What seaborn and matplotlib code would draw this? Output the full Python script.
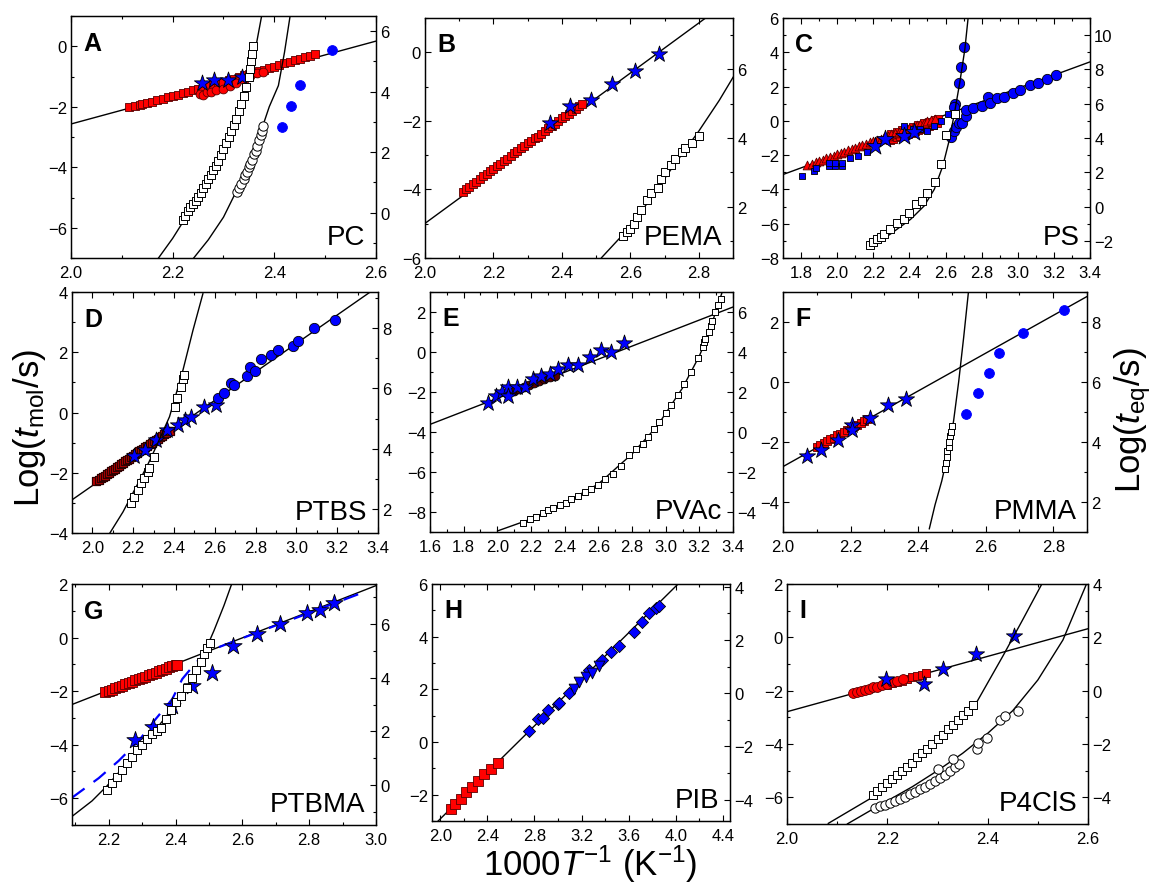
import matplotlib
matplotlib.use('Agg')
import matplotlib.pyplot as plt
import seaborn as sns
from matplotlib.ticker import MultipleLocator

sns.set_style('ticks')
plt.rcParams['font.family'] = ['Liberation Sans', 'DejaVu Sans']
plt.rcParams['mathtext.fontset'] = 'custom'
plt.rcParams['mathtext.rm'] = 'Liberation Sans'
plt.rcParams['mathtext.it'] = 'Liberation Sans:italic'
for k in ('text.color', 'axes.labelcolor', 'xtick.color', 'ytick.color', 'axes.edgecolor'):
    plt.rcParams[k] = 'black'

# ---------------- A: PC ----------------
pc_line_x = [2.0, 2.6]
pc_line_y = [-2.57, 0.17]
pc_red_sq_x = [2.115, 2.125, 2.135, 2.14, 2.15, 2.16, 2.17, 2.18, 2.19, 2.2, 2.21, 2.22, 2.23,
               2.24, 2.25, 2.26, 2.27, 2.28, 2.29, 2.3, 2.31, 2.32, 2.33, 2.34, 2.35, 2.36, 2.37,
               2.38, 2.39, 2.4, 2.41, 2.42, 2.43, 2.44, 2.45, 2.46, 2.47, 2.48]
pc_red_sq_y = [-2.02, -1.98, -1.93, -1.92, -1.87, -1.83, -1.78, -1.74, -1.69, -1.66, -1.6, -1.56,
               -1.5, -1.46, -1.41, -1.36, -1.31, -1.26, -1.21, -1.17, -1.12, -1.07, -1.02, -0.96,
               -0.92, -0.87, -0.82, -0.78, -0.72, -0.67, -0.62, -0.57, -0.52, -0.47, -0.42, -0.37,
               -0.32, -0.26]
pc_red_ci_x = [2.254, 2.26, 2.268, 2.276, 2.286, 2.299, 2.312, 2.325, 2.34, 2.352, 2.365, 2.378]
pc_red_ci_y = [-1.57, -1.6, -1.52, -1.5, -1.45, -1.4, -1.33, -1.2, -1.1, -0.98, -0.9, -0.85]
pc_star_x = [2.257, 2.282, 2.309, 2.337]
pc_star_y = [-1.23, -1.1, -1.12, -1.01]
pc_blue_x = [2.415, 2.433, 2.45, 2.514]
pc_blue_y = [-2.66, -1.96, -1.29, -0.14]
pc_open_sq_x = [2.22, 2.225, 2.23, 2.235, 2.24, 2.245, 2.25, 2.255, 2.26, 2.265, 2.27, 2.275,
                2.28, 2.285, 2.29, 2.295, 2.3, 2.305, 2.31, 2.315, 2.32, 2.325, 2.33, 2.335,
                2.34, 2.345, 2.35, 2.352, 2.354, 2.356, 2.358]
pc_open_sq_y = [-0.25, -0.1, 0.05, 0.2, 0.3, 0.4, 0.52, 0.65, 0.8, 0.95, 1.1, 1.25, 1.4, 1.55,
                1.72, 1.9, 2.1, 2.3, 2.5, 2.7, 2.9, 3.1, 3.35, 3.6, 3.85, 4.15, 4.5, 4.75, 5.0,
                5.25, 5.5]
pc_open_ci_x = [2.326, 2.33, 2.335, 2.34, 2.343, 2.346, 2.35, 2.353, 2.356, 2.36, 2.363, 2.366,
                2.37, 2.373, 2.375, 2.378]
pc_open_ci_y = [0.68, 0.8, 0.95, 1.1, 1.25, 1.35, 1.5, 1.62, 1.75, 1.95, 2.05, 2.2, 2.4, 2.55,
                2.7, 2.87]
pc_fit1_x = [2.17, 2.2, 2.23, 2.26, 2.29, 2.31, 2.33, 2.35, 2.365, 2.375]
pc_fit1_y = [-1.55, -0.85, -0.05, 0.85, 1.85, 2.6, 3.5, 4.6, 5.6, 6.5]
pc_fit2_x = [2.239, 2.27, 2.3, 2.325, 2.35, 2.37, 2.39, 2.408, 2.42, 2.431]
pc_fit2_y = [-1.55, -0.9, -0.15, 0.7, 1.6, 2.5, 3.5, 4.2, 5.3, 6.5]

# ---------------- B: PEMA ----------------
pema_line_x = [2.0, 2.82]
pema_line_y = [-4.99, 1.0]
pema_red_x = [2.11, 2.12, 2.13, 2.14, 2.15, 2.16, 2.17, 2.18, 2.19, 2.2, 2.21, 2.22, 2.23, 2.24,
              2.25, 2.26, 2.27, 2.28, 2.29, 2.3, 2.31, 2.32, 2.33, 2.34, 2.35, 2.36, 2.37, 2.38,
              2.39, 2.4, 2.41, 2.42, 2.43, 2.44, 2.45, 2.46]
pema_red_y = [-4.08, -4.0, -3.93, -3.85, -3.78, -3.7, -3.62, -3.55, -3.47, -3.4, -3.32, -3.25,
              -3.17, -3.1, -3.02, -2.95, -2.87, -2.8, -2.72, -2.65, -2.58, -2.5, -2.48, -2.37,
              -2.3, -2.22, -2.15, -2.08, -2.0, -1.93, -1.86, -1.79, -1.72, -1.65, -1.58, -1.52]
pema_star_x = [2.365, 2.424, 2.485, 2.547, 2.613, 2.683]
pema_star_y = [-2.05, -1.56, -1.4, -0.93, -0.56, -0.06]
pema_open_x = [2.58, 2.59, 2.6, 2.61, 2.62, 2.63, 2.65, 2.66, 2.68, 2.69, 2.7, 2.72, 2.73, 2.75,
               2.76, 2.78, 2.8]
pema_open_y = [1.15, 1.25, 1.35, 1.5, 1.7, 1.9, 2.2, 2.4, 2.55, 2.8, 3.0, 3.2, 3.4, 3.6, 3.7,
               3.85, 4.05]
pema_fit_x = [2.515, 2.58, 2.65, 2.72, 2.8, 2.86, 2.905]
pema_fit_y = [0.5, 1.2, 2.1, 3.1, 4.2, 5.1, 5.85]

# ---------------- C: PS ----------------
ps_line_x = [1.7, 3.4]
ps_line_y = [-3.13, 3.44]
ps_tri_x = [1.835, 1.86, 1.88, 1.9, 1.92, 1.94, 1.96, 1.98, 2.0, 2.02, 2.04, 2.06, 2.08, 2.1,
            2.12, 2.14, 2.16, 2.18, 2.2, 2.22, 2.24, 2.26, 2.28, 2.3, 2.32, 2.34, 2.36, 2.38,
            2.4, 2.42, 2.44, 2.46, 2.48, 2.5, 2.52, 2.54]
ps_tri_y = [-2.56, -2.5, -2.42, -2.34, -2.26, -2.18, -2.1, -2.03, -1.95, -1.87, -1.8, -1.72,
            -1.64, -1.57, -1.49, -1.41, -1.33, -1.26, -1.18, -1.1, -1.03, -0.95, -0.87, -0.79,
            -0.72, -0.64, -0.56, -0.49, -0.41, -0.33, -0.25, -0.18, -0.1, -0.02, 0.06, 0.11]
ps_red_sq_x = [2.29, 2.31, 2.33, 2.35, 2.37, 2.39, 2.41, 2.43, 2.45, 2.47, 2.49, 2.51, 2.53, 2.55,
               2.3, 2.33, 2.36, 2.39, 2.42, 2.45, 2.48, 2.51, 2.54, 2.56]
ps_red_sq_y = [-1.1, -1.03, -0.97, -0.9, -0.83, -0.76, -0.68, -0.6, -0.52, -0.45, -0.37, -0.3,
               -0.22, -0.15, -0.75, -0.65, -0.55, -0.45, -0.35, -0.25, -0.15, -0.05, 0.05, 0.12]
ps_blue_sq_x = [1.807, 1.873, 1.88, 1.953, 1.953, 1.99, 1.99, 2.029, 2.029, 2.07, 2.117, 2.163,
                2.37, 2.42, 2.46, 2.5, 2.537, 2.575, 2.612]
ps_blue_sq_y = [-3.2, -2.91, -2.75, -2.62, -2.48, -2.62, -2.45, -2.62, -2.45, -2.19, -2.03,
                -1.84, -0.32, -0.45, -0.5, -0.58, -0.28, 0.0, 0.4]
ps_star_x = [2.21, 2.266, 2.37, 2.425]
ps_star_y = [-1.45, -1.06, -0.87, -0.63]
ps_blue_ci_x = [2.703, 2.684, 2.675, 2.654, 2.645, 2.633, 2.645, 2.657, 2.675, 2.69, 2.716,
                2.716, 2.753, 2.803, 2.837, 2.846, 2.887, 2.925, 2.972, 3.015, 3.065, 3.113,
                3.161, 3.212]
ps_blue_ci_y = [4.33, 3.16, 2.21, 0.98, 0.8, -0.96, -0.57, -0.34, -0.13, -0.1, 0.3, 0.65, 0.73,
                0.85, 1.37, 1.04, 1.33, 1.37, 1.62, 1.82, 2.09, 2.21, 2.44, 2.67]
ps_open_x = [2.182, 2.2, 2.22, 2.24, 2.257, 2.294, 2.332, 2.369, 2.397, 2.435, 2.472, 2.5, 2.543,
             2.575, 2.603, 2.65]
ps_open_y = [-2.23, -2.05, -1.9, -1.75, -1.61, -1.32, -0.93, -0.74, -0.35, 0.14, 0.33, 0.82,
             1.41, 2.47, 4.17, 5.39]
ps_fit_x = [2.182, 2.294, 2.407, 2.482, 2.538, 2.585, 2.622, 2.65, 2.679, 2.707, 2.725]
ps_fit_y = [-2.39, -1.61, -0.74, 0.04, 1.01, 2.37, 3.93, 5.49, 7.24, 9.18, 11.0]

# ---------------- D: PTBS ----------------
ptbs_line_x = [1.9, 3.4]
ptbs_line_y = [-2.9, 4.18]
ptbs_red_x = [2.02, 2.03, 2.04, 2.05, 2.06, 2.07, 2.08, 2.09, 2.1, 2.11, 2.12, 2.13, 2.14, 2.15,
              2.16, 2.17, 2.18, 2.19, 2.2, 2.21, 2.22, 2.23, 2.24, 2.25, 2.26, 2.27, 2.28, 2.29,
              2.3, 2.31, 2.32, 2.33, 2.34, 2.35, 2.36, 2.37, 2.38]
ptbs_red_y = [-2.28, -2.24, -2.19, -2.14, -2.1, -2.05, -2.0, -1.95, -1.91, -1.86, -1.81, -1.77,
              -1.72, -1.67, -1.62, -1.58, -1.53, -1.48, -1.43, -1.39, -1.34, -1.29, -1.25, -1.2,
              -1.15, -1.1, -1.06, -1.01, -0.96, -0.92, -0.87, -0.82, -0.77, -0.73, -0.68,
              -0.63, -0.6]
ptbs_star_x = [2.206, 2.259, 2.312, 2.365, 2.419, 2.452, 2.485, 2.545, 2.604]
ptbs_star_y = [-1.45, -1.23, -0.9, -0.59, -0.42, -0.25, -0.14, 0.17, 0.24]
ptbs_blue_x = [2.616, 2.645, 2.681, 2.694, 2.76, 2.774, 2.799, 2.828, 2.874, 2.91, 2.981, 3.008,
               3.087, 3.189]
ptbs_blue_y = [0.49, 0.66, 0.99, 0.91, 1.21, 1.52, 1.37, 1.76, 1.9, 2.07, 2.2, 2.37, 2.79, 3.07]
ptbs_open_x = [2.187, 2.206, 2.222, 2.239, 2.255, 2.272, 2.277, 2.3, 2.406, 2.414, 2.436, 2.444,
               2.447]
ptbs_open_y = [2.2, 2.41, 2.64, 2.86, 3.02, 3.21, 3.37, 3.71, 5.37, 5.67, 6.06, 6.3, 6.44]
ptbs_fit_x = [2.083, 2.15, 2.215, 2.27, 2.313, 2.378, 2.444, 2.493, 2.542]
ptbs_fit_y = [1.17, 1.9, 2.74, 3.45, 4.07, 5.06, 6.61, 7.93, 9.15]

# ---------------- E: PVAc ----------------
pvac_line_x = [1.6, 3.4]
pvac_line_y = [-3.62, 2.25]
pvac_red_x = [2.1, 2.13, 2.16, 2.19, 2.22, 2.25, 2.28, 2.31, 2.34]
pvac_red_y = [-1.95, -1.85, -1.75, -1.65, -1.56, -1.46, -1.36, -1.27, -1.18]
pvac_star_x = [1.946, 1.991, 2.025, 2.064, 2.064, 2.114, 2.163, 2.209, 2.262, 2.311, 2.36, 2.42,
               2.479, 2.548, 2.613, 2.677, 2.751]
pvac_star_y = [-2.53, -2.2, -1.98, -1.73, -2.2, -1.73, -1.73, -1.37, -1.2, -1.1, -0.87, -0.65,
               -0.65, -0.23, 0.1, 0.02, 0.47]
pvac_open_x = [2.153, 2.193, 2.232, 2.272, 2.301, 2.331, 2.37, 2.406, 2.44, 2.479, 2.519, 2.558,
               2.597, 2.637, 2.686, 2.736, 2.785, 2.825, 2.864, 2.894, 2.933, 2.963, 3.003,
               3.033, 3.072, 3.111, 3.151, 3.19, 3.22, 3.23, 3.234, 3.259, 3.269, 3.275, 3.295,
               3.309, 3.329]
pvac_open_y = [-4.53, -4.37, -4.23, -4.07, -3.9, -3.82, -3.65, -3.53, -3.37, -3.2, -3.02, -2.85,
               -2.65, -2.37, -2.12, -1.7, -1.15, -0.87, -0.6, -0.23, 0.13, 0.52, 0.93, 1.35,
               1.85, 2.38, 3.02, 3.68, 4.27, 4.52, 4.63, 5.02, 5.3, 5.57, 6.02, 6.35, 6.63]
pvac_fit_x = [2.0, 2.2, 2.4, 2.6, 2.8, 2.95, 3.1, 3.2, 3.26, 3.3, 3.34]
pvac_fit_y = [-4.95, -4.35, -3.55, -2.6, -1.1, 0.3, 2.2, 3.8, 5.0, 6.1, 7.1]

# ---------------- F: PMMA ----------------
pmma_line_x = [2.0, 2.9]
pmma_line_y = [-2.82, 2.85]
pmma_red_x = [2.1, 2.11, 2.12, 2.13, 2.14, 2.15, 2.16, 2.17, 2.18, 2.19, 2.2, 2.21, 2.22, 2.23,
              2.24, 2.25]
pmma_red_y = [-2.15, -2.1, -2.02, -1.98, -1.9, -1.85, -1.78, -1.72, -1.65, -1.6, -1.54, -1.48,
              -1.42, -1.36, -1.3, -1.24]
pmma_star_x = [2.07, 2.112, 2.162, 2.203, 2.203, 2.258, 2.31, 2.364]
pmma_star_y = [-2.47, -2.27, -1.93, -1.43, -1.6, -1.21, -0.77, -0.57]
pmma_blue_x = [2.542, 2.578, 2.611, 2.64, 2.711, 2.832]
pmma_blue_y = [-1.07, -0.38, 0.31, 0.98, 1.64, 2.4]
pmma_open_x = [2.48, 2.482, 2.485, 2.487, 2.49, 2.492, 2.495, 2.497, 2.5]
pmma_open_y = [3.1, 3.3, 3.5, 3.7, 3.85, 4.0, 4.2, 4.35, 4.55]
pmma_fit_x = [2.433, 2.45, 2.47, 2.49, 2.505, 2.52, 2.535, 2.549]
pmma_fit_y = [1.1, 1.9, 2.7, 3.7, 4.7, 6.0, 7.5, 9.0]

# ---------------- G: PTBMA ----------------
ptbma_line_x = [2.09, 3.0]
ptbma_line_y = [-2.5, 1.94]
ptbma_red_x = [2.19, 2.2, 2.21, 2.22, 2.23, 2.24, 2.25, 2.26, 2.27, 2.28, 2.29, 2.3, 2.31,
               2.32, 2.33, 2.34, 2.35, 2.36, 2.37, 2.38, 2.39, 2.4, 2.405]
ptbma_red_y = [-2.04, -1.99, -1.94, -1.89, -1.84, -1.8, -1.75, -1.7, -1.65, -1.6, -1.55, -1.5,
               -1.46, -1.41, -1.36, -1.31, -1.26, -1.21, -1.16, -1.11, -1.07, -1.03, -1.01]
ptbma_star_x = [2.279, 2.333, 2.388, 2.448, 2.51, 2.573, 2.643, 2.713, 2.793, 2.833, 2.874]
ptbma_star_y = [-3.83, -3.34, -2.56, -1.81, -1.32, -0.32, 0.15, 0.51, 0.92, 1.04, 1.29]
ptbma_dash_x = [2.09, 2.17, 2.23, 2.29, 2.34, 2.39, 2.42, 2.46, 2.5, 2.575, 2.7, 2.8, 2.956]
ptbma_dash_y = [-5.98, -5.25, -4.6, -3.85, -3.05, -2.3, -1.55, -0.95, -0.5, -0.14, 0.45, 0.92,
                1.66]
ptbma_open_x = [2.194, 2.21, 2.225, 2.24, 2.255, 2.27, 2.285, 2.3, 2.315, 2.33, 2.345, 2.355,
                2.37, 2.385, 2.4, 2.415, 2.435, 2.45, 2.46, 2.475, 2.485, 2.495, 2.503]
ptbma_open_y = [-0.18, 0.05, 0.3, 0.55, 0.8, 1.05, 1.3, 1.5, 1.7, 1.9, 2.0, 2.13, 2.45, 2.8, 3.1,
                3.3, 3.63, 4.0, 4.3, 4.6, 4.88, 5.1, 5.28]
ptbma_fit_x = [2.091, 2.15, 2.194, 2.25, 2.3, 2.345, 2.4, 2.445, 2.48, 2.515, 2.545, 2.57]
ptbma_fit_y = [-1.17, -0.6, -0.05, 0.75, 1.45, 2.13, 3.0, 3.88, 4.75, 5.76, 6.7, 7.57]

# ---------------- H: PIB ----------------
pib_line_x = [1.93, 4.044]
pib_line_y = [-3.23, 6.11]
pib_red_x = [2.09, 2.126, 2.174, 2.219, 2.272, 2.323, 2.371, 2.43, 2.491]
pib_red_y = [-2.54, -2.35, -2.16, -1.91, -1.69, -1.47, -1.22, -1.02, -0.8]
pib_dia_x = [2.752, 2.834, 2.876, 2.915, 2.996, 3.005, 3.095, 3.263, 3.376, 3.452, 3.516, 3.642,
             3.712, 3.774, 3.83, 3.86]
pib_dia_y = [0.43, 0.89, 0.92, 1.23, 1.45, 1.5, 1.87, 2.72, 3.11, 3.4, 3.66, 4.16, 4.54, 4.89,
             5.1, 5.15]
pib_tri_x = [3.137, 3.179, 3.235, 3.291, 3.347]
pib_tri_y = [2.03, 2.28, 2.46, 2.62, 2.87]

# ---------------- I: P4ClS ----------------
p4cls_line_x = [2.0, 2.607]
p4cls_line_y = [-2.79, 0.36]
p4cls_red_ci_x = [2.132, 2.14, 2.148, 2.156, 2.164, 2.172, 2.18, 2.19, 2.2, 2.21, 2.22, 2.232]
p4cls_red_ci_y = [-2.07, -2.05, -2.02, -1.98, -1.93, -1.88, -1.85, -1.8, -1.75, -1.69, -1.64,
                  -1.55]
p4cls_red_sq_x = [2.2, 2.21, 2.22, 2.23, 2.24, 2.25, 2.26, 2.27, 2.278]
p4cls_red_sq_y = [-1.78, -1.72, -1.67, -1.62, -1.57, -1.5, -1.45, -1.4, -1.35]
p4cls_star_x = [2.197, 2.273, 2.31, 2.376, 2.452]
p4cls_star_y = [-1.55, -1.76, -1.17, -0.64, 0.06]
p4cls_open_sq_x = [2.172, 2.18, 2.19, 2.2, 2.21, 2.22, 2.23, 2.24, 2.25, 2.26, 2.27, 2.28, 2.29,
                   2.3, 2.31, 2.32, 2.33, 2.34, 2.35, 2.36, 2.37]
p4cls_open_sq_y = [-3.92, -3.75, -3.6, -3.45, -3.3, -3.15, -3.0, -2.85, -2.7, -2.5, -2.35, -2.2,
                   -2.0, -1.8, -1.65, -1.45, -1.3, -1.1, -0.9, -0.75, -0.55]
p4cls_open_ci_x = [2.175, 2.185, 2.195, 2.205, 2.215, 2.225, 2.235, 2.245, 2.255, 2.265, 2.275,
                   2.285, 2.295, 2.305, 2.315, 2.325, 2.335, 2.342, 2.301, 2.331, 2.378, 2.381,
                   2.399, 2.425, 2.435, 2.461]
p4cls_open_ci_y = [-4.39, -4.33, -4.27, -4.2, -4.13, -4.05, -3.97, -3.88, -3.79, -3.7, -3.6,
                   -3.49, -3.38, -3.27, -3.15, -3.02, -2.88, -2.75, -2.95, -2.57, -2.17, -1.95,
                   -1.77, -1.11, -0.95, -0.77]
p4cls_fit1_x = [2.082, 2.172, 2.272, 2.371, 2.431, 2.471, 2.508]
p4cls_fit1_y = [-4.98, -3.98, -2.24, -0.67, 1.32, 2.7, 4.0]
p4cls_fit2_x = [2.12, 2.175, 2.25, 2.3, 2.35, 2.4, 2.45, 2.5, 2.55, 2.597]
p4cls_fit2_y = [-5.0, -4.4, -3.6, -3.0, -2.35, -1.6, -0.75, 0.4, 1.9, 4.0]

W, H = 1155, 887
fig = plt.figure(figsize=(W / 100, H / 100), dpi=100)


def panel(box, xlim, ylim, y2lim, xstep, xminor, letter, name):
    l, r, t, b = box
    ax = fig.add_axes([l / W, 1 - b / H, (r - l) / W, (b - t) / H])
    ax2 = ax.twinx()
    ax.set_xlim(*xlim)
    ax.set_ylim(*ylim)
    ax2.set_ylim(*y2lim)
    ax.xaxis.set_major_locator(MultipleLocator(xstep))
    ax.xaxis.set_minor_locator(MultipleLocator(xminor))
    for a in (ax, ax2):
        a.yaxis.set_major_locator(MultipleLocator(2))
        a.yaxis.set_minor_locator(MultipleLocator(1))
        a.tick_params(which='both', direction='in', labelsize=12, width=0.8, pad=3)
        a.tick_params(which='major', length=4)
        a.tick_params(which='minor', length=2.5)
        for s in a.spines.values():
            s.set_linewidth(0.9)
            s.set_color('black')
    ax.tick_params(which='both', top=True)
    ax.tick_params(axis='x', pad=5)
    ax.xaxis.set_major_formatter(matplotlib.ticker.FormatStrFormatter('%.1f'))
    ax.text(0.04, 0.89, letter, transform=ax.transAxes, fontsize=18, fontweight='bold',
            ha='left', va='center', zorder=10)
    ax2.text(0.965, 0.035, name, transform=ax2.transAxes, fontsize=20, ha='right',
             va='bottom', zorder=10)
    return ax, ax2


def pts(ax, x, y, marker, size, fc, ec='black', lw=0.6):
    sns.scatterplot(x=x, y=y, ax=ax, marker=marker, s=size, color=fc, edgecolor=ec,
                    linewidth=lw, legend=False, zorder=3)


def fit(ax, x, y, color='black', ls='-', lw=1.0):
    sns.lineplot(x=x, y=y, ax=ax, sort=False, estimator=None, color=color, linestyle=ls,
                 linewidth=lw, legend=False, zorder=2)


RED = '#ff0000'
BLUE = '#0000ff'
DRED = '#5a0000'

# A
ax, ax2 = panel((71, 376, 17, 259), (2.0, 2.6), (-7, 1), (-1.5, 6.5), 0.2, 0.1, 'A', 'PC')
fit(ax, pc_line_x, pc_line_y)
pts(ax, pc_red_sq_x, pc_red_sq_y, 's', 30, RED, DRED)
pts(ax, pc_red_ci_x, pc_red_ci_y, 'o', 40, RED, DRED)
pts(ax, pc_star_x, pc_star_y, '*', 150, BLUE)
pts(ax, pc_blue_x, pc_blue_y, 'o', 50, BLUE, BLUE)
fit(ax2, pc_fit1_x, pc_fit1_y)
fit(ax2, pc_fit2_x, pc_fit2_y)
pts(ax2, pc_open_sq_x, pc_open_sq_y, 's', 36, 'white', 'black', 0.7)
pts(ax2, pc_open_ci_x, pc_open_ci_y, 'o', 45, 'white', 'black', 0.7)
ax.set_ylim(-7, 1); ax.set_xlim(2.0, 2.6); ax2.set_ylim(-1.5, 6.5)

# B
ax, ax2 = panel((425, 733, 19, 259), (2.0, 2.9), (-6, 1), (0.5, 7.5), 0.2, 0.1, 'B', 'PEMA')
fit(ax, pema_line_x, pema_line_y)
pts(ax, pema_red_x, pema_red_y, 's', 30, RED, DRED)
pts(ax, pema_star_x, pema_star_y, '*', 150, BLUE)
fit(ax2, pema_fit_x, pema_fit_y)
pts(ax2, pema_open_x, pema_open_y, 's', 36, 'white', 'black', 0.7)
ax.set_ylim(-6, 1); ax.set_xlim(2.0, 2.9); ax2.set_ylim(0.5, 7.5)

# C
ax, ax2 = panel((783, 1090, 19, 259), (1.7, 3.4), (-8, 6), (-3, 11), 0.2, 0.1, 'C', 'PS')
fit(ax, ps_line_x, ps_line_y)
pts(ax, ps_red_sq_x, ps_red_sq_y, 's', 30, RED, DRED)
pts(ax, ps_tri_x, ps_tri_y, '^', 40, RED, DRED)
pts(ax, ps_blue_sq_x, ps_blue_sq_y, 's', 24, BLUE)
pts(ax, ps_star_x, ps_star_y, '*', 180, BLUE)
pts(ax, ps_blue_ci_x, ps_blue_ci_y, 'o', 55, BLUE)
fit(ax2, ps_fit_x, ps_fit_y)
pts(ax2, ps_open_x, ps_open_y, 's', 40, 'white', 'black', 0.7)
ax.set_ylim(-8, 6); ax.set_xlim(1.7, 3.4); ax2.set_ylim(-3, 11)

# D
ax, ax2 = panel((72, 378, 293, 534), (1.9, 3.4), (-4, 4), (1.2, 9.2), 0.2, 0.1, 'D', 'PTBS')
fit(ax, ptbs_line_x, ptbs_line_y)
pts(ax, ptbs_red_x, ptbs_red_y, 's', 34, '#c00000', '#300000', 0.9)
pts(ax, ptbs_star_x, ptbs_star_y, '*', 150, BLUE)
pts(ax, ptbs_blue_x, ptbs_blue_y, 'o', 55, BLUE)
fit(ax2, ptbs_fit_x, ptbs_fit_y)
pts(ax2, ptbs_open_x, ptbs_open_y, 's', 36, 'white', 'black', 0.7)
ax.set_ylim(-4, 4); ax.set_xlim(1.9, 3.4); ax2.set_ylim(1.2, 9.2)

# E
ax, ax2 = panel((430, 733, 293, 533), (1.6, 3.4), (-9, 3), (-5, 7), 0.2, 0.1, 'E', 'PVAc')
fit(ax, pvac_line_x, pvac_line_y)
pts(ax, pvac_red_x, pvac_red_y, 'o', 40, DRED, 'black')
pts(ax, pvac_star_x, pvac_star_y, '*', 150, BLUE)
fit(ax2, pvac_fit_x, pvac_fit_y)
pts(ax2, pvac_open_x, pvac_open_y, 's', 22, 'white', 'black', 0.7)
ax.set_ylim(-9, 3); ax.set_xlim(1.6, 3.4); ax2.set_ylim(-5, 7)

# F
ax, ax2 = panel((783, 1087, 293, 533), (2.0, 2.9), (-5, 3), (1, 9), 0.2, 0.1, 'F', 'PMMA')
fit(ax, pmma_line_x, pmma_line_y)
pts(ax, pmma_red_x, pmma_red_y, 's', 30, RED, DRED)
pts(ax, pmma_star_x, pmma_star_y, '*', 150, BLUE)
pts(ax, pmma_blue_x, pmma_blue_y, 'o', 50, BLUE, BLUE)
fit(ax2, pmma_fit_x, pmma_fit_y)
pts(ax2, pmma_open_x, pmma_open_y, 's', 22, 'white', 'black', 0.7)
ax.set_ylim(-5, 3); ax.set_xlim(2.0, 2.9); ax2.set_ylim(1, 9)

# G
ax, ax2 = panel((72, 376, 585, 826), (2.09, 3.0), (-7, 2), (-1.5, 7.5), 0.2, 0.1, 'G', 'PTBMA')
fit(ax, ptbma_line_x, ptbma_line_y)
fit(ax, ptbma_dash_x, ptbma_dash_y, color=BLUE, ls=(0, (7, 5)), lw=1.6)
pts(ax, ptbma_red_x, ptbma_red_y, 's', 45, RED, DRED)
pts(ax, ptbma_star_x, ptbma_star_y, '*', 170, BLUE)
fit(ax2, ptbma_fit_x, ptbma_fit_y)
pts(ax2, ptbma_open_x, ptbma_open_y, 's', 40, 'white', 'black', 0.7)
ax.set_ylim(-7, 2); ax.set_xlim(2.09, 3.0); ax2.set_ylim(-1.5, 7.5)

# H
ax, ax2 = panel((432, 730, 585, 822), (1.93, 4.46), (-3, 6), (-4.8, 4.1), 0.4, 0.2, 'H', 'PIB')
fit(ax, pib_line_x, pib_line_y)
pts(ax, pib_red_x, pib_red_y, 's', 55, RED, DRED)
pts(ax, pib_dia_x, pib_dia_y, 'D', 38, BLUE)
pts(ax, pib_tri_x, pib_tri_y, 'v', 60, BLUE)
ax.set_ylim(-3, 6); ax.set_xlim(1.93, 4.46); ax2.set_ylim(-4.8, 4.1)

# I
ax, ax2 = panel((787, 1088, 585, 825), (2.0, 2.6), (-7, 2), (-5, 4), 0.2, 0.1, 'I', 'P4ClS')
fit(ax, p4cls_line_x, p4cls_line_y)
pts(ax, p4cls_red_sq_x, p4cls_red_sq_y, 's', 40, RED, DRED)
pts(ax, p4cls_red_ci_x, p4cls_red_ci_y, 'o', 50, RED, DRED)
pts(ax, p4cls_star_x, p4cls_star_y, '*', 150, BLUE)
fit(ax2, p4cls_fit1_x, p4cls_fit1_y)
fit(ax2, p4cls_fit2_x, p4cls_fit2_y)
pts(ax2, p4cls_open_sq_x, p4cls_open_sq_y, 's', 36, 'white', 'black', 0.7)
pts(ax2, p4cls_open_ci_x, p4cls_open_ci_y, 'o', 45, 'white', 'black', 0.7)
ax.set_ylim(-7, 2); ax.set_xlim(2.0, 2.6); ax2.set_ylim(-5, 4)

fig.text(30 / W, 1 - 428 / H, r'Log($\mathit{t}_{\mathrm{mol}}$/s)', rotation=90, fontsize=25,
         ha='center', va='center')
fig.text(1133 / W, 1 - 420 / H, r'Log($\mathit{t}_{\mathrm{eq}}$/s)', rotation=90, fontsize=25,
         ha='center', va='center')
fig.text(590 / W, 1 - 864 / H, r'1000$\mathit{T}^{-1}$ (K$^{-1}$)', fontsize=25,
         ha='center', va='center')

fig.savefig('out.png', dpi=100)
